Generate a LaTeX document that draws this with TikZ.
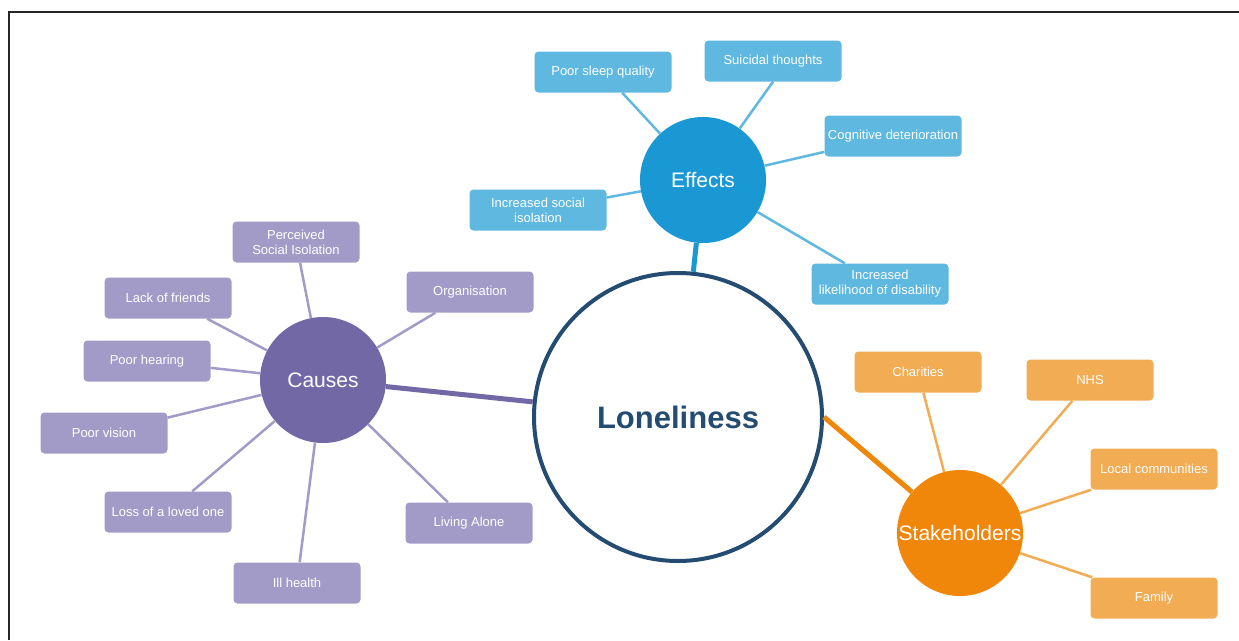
\documentclass[tikz,border=0pt]{standalone}
\usepackage{fontspec}
\setmainfont{Liberation Sans}
\definecolor{lnavy}{RGB}{36,76,114}
\definecolor{efblue}{RGB}{26,152,212}
\definecolor{eflight}{RGB}{95,184,224}
\definecolor{capurple}{RGB}{115,104,166}
\definecolor{calight}{RGB}{162,155,200}
\definecolor{storange}{RGB}{240,134,10}
\definecolor{stlight}{RGB}{242,172,84}

\begin{document}
\begin{tikzpicture}[x=1pt,y=-1pt,
    hub/.style={circle,minimum size=126pt,inner sep=0pt,text=white,font=\fontsize{21}{25}\selectfont},
    leaf/.style={rounded corners=4pt,minimum width=127pt,minimum height=41pt,inner sep=1pt,align=center,text=white,font=\fontsize{13}{15}\selectfont},
    twig/.style={line width=2.5pt},
    trunk/.style={line width=5pt}]
  \useasboundingbox (0,0) rectangle (1239,640);
  \draw[line width=1.5pt,black!85] (9,640) -- (9,12) -- (1239,12);

  \node[circle,draw=lnavy,line width=4pt,minimum size=288pt,text=lnavy,font=\fontsize{31}{36}\selectfont\bfseries] (lonely) at (678,417) {Loneliness};

  % effects
  \node[hub,fill=efblue] (eff) at (703,180) {Effects};
  \node[leaf,fill=eflight,minimum width=137pt] (sleep) at (603,72)  {Poor sleep quality};
  \node[leaf,fill=eflight,minimum width=137pt] (sui)   at (773,61)  {Suicidal thoughts};
  \node[leaf,fill=eflight,minimum width=137pt] (cogn)  at (893,136) {Cognitive deterioration};
  \node[leaf,fill=eflight,minimum width=137pt] (isol)  at (538,210) {Increased social\\isolation};
  \node[leaf,fill=eflight,minimum width=137pt] (disab) at (880,284) {Increased\\likelihood of disability};
  \draw[twig,eflight] (eff) -- (sleep); \draw[twig,eflight] (eff) -- (sui.south);
  \draw[twig,eflight] (eff) -- (cogn);  \draw[twig,eflight] (eff) -- (isol);
  \draw[twig,eflight] (eff) -- (disab);
  \draw[trunk,efblue] (eff) -- (lonely);

  % causes
  \node[hub,fill=capurple] (cause) at (323,380) {Causes};
  \node[leaf,fill=calight] (perc)   at (296,242) {Perceived\\Social Isolation};
  \node[leaf,fill=calight] (friend) at (168,298) {Lack of friends};
  \node[leaf,fill=calight] (org)    at (470,292) {Organisation};
  \node[leaf,fill=calight] (hear)   at (147,361) {Poor hearing};
  \node[leaf,fill=calight] (vision) at (104,433) {Poor vision};
  \node[leaf,fill=calight] (loss)   at (168,512) {Loss of a loved one};
  \node[leaf,fill=calight] (ill)    at (297,583) {Ill health};
  \node[leaf,fill=calight] (alone)  at (469,523) {Living Alone};
  \foreach \c in {perc,friend,org,hear,vision,loss,ill,alone}
    \draw[twig,calight] (cause) -- (\c);
  \draw[trunk,capurple] (cause) -- (lonely);

  % stakeholders
  \node[hub,fill=storange] (stake) at (960,533) {Stakeholders};
  \node[leaf,fill=stlight] (charity) at (918,372)  {Charities};
  \node[leaf,fill=stlight] (nhs)     at (1090,380) {NHS};
  \node[leaf,fill=stlight] (local)   at (1154,469) {Local communities};
  \node[leaf,fill=stlight] (family)  at (1154,598) {Family};
  \foreach \s in {charity,nhs,local,family}
    \draw[twig,stlight] (stake) -- (\s);
  \draw[trunk,storange] (lonely.east) -- (stake);
\end{tikzpicture}
\end{document}
